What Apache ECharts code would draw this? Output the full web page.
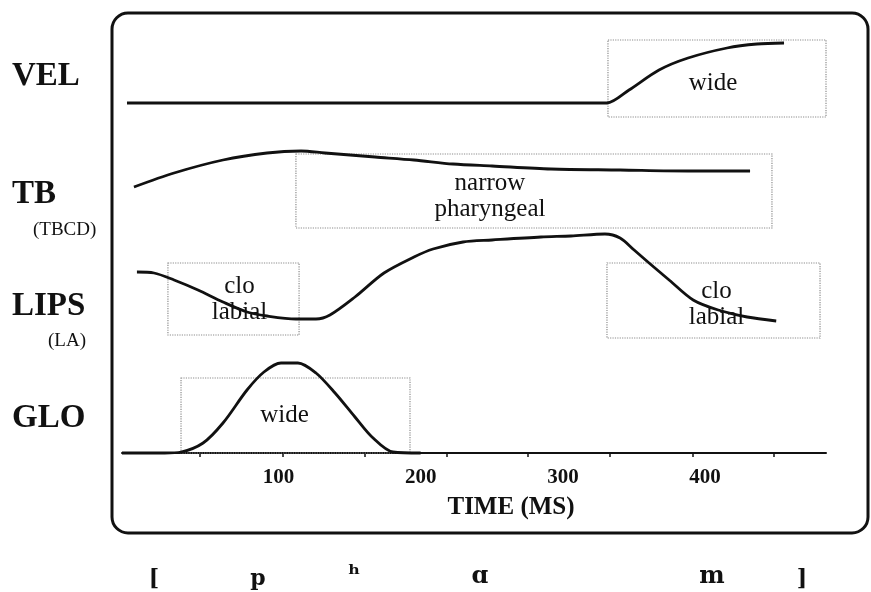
<!DOCTYPE html>
<html>
<head>
<meta charset="utf-8">
<script src="https://cdn.jsdelivr.net/npm/echarts@6/dist/echarts.min.js"></script>
<style>
  html, body { margin: 0; padding: 0; background: #ffffff; }
  #chart { width: 871px; height: 592px; }
</style>
</head>
<body>
<div id="chart"></div>
<script>
// Gestural score for [pʰɑm]: tract-variable trajectories over time (ms),
// with the active gesture intervals drawn as dotted boxes.

// Time axis
const timeMin = -10;
const timeMax = 485;
const timeLabels = [100, 200, 300, 400];
const timeTicks = [45, 103, 161, 218, 275, 333, 391, 448];

// Tiers (drawn top to bottom)
const tierNames = ['VEL', 'TB', 'LIPS', 'GLO'];
const tierSubNames = ['', '(TBCD)', '(LA)', ''];

// VEL (velum aperture)
const velTime  = [-6.5, 150, 300, 325, 331, 346.5, 367.6, 388, 415.4, 436.5, 455.5];
const velValue = [2.7, 2.7, 2.7, 2.7, 2.7, 4.0, 6.0, 7.2, 8.2, 8.6, 8.7];

// TB (tongue body constriction degree)
const tbTime  = [-1.6, 26.6, 61, 92, 115.9, 132.7, 167.9, 195.3, 222.7, 250.2, 291.6, 340.2, 388, 431.6];
const tbValue = [5.3, 6.7, 8.0, 8.7, 8.9, 8.7, 8.3, 8.0, 7.6, 7.4, 7.1, 7.0, 6.9, 6.9];

// LIPS (lip aperture)
const lipsTime  = [0.5, 12.5, 26.6, 43.4, 61, 77.9, 92, 112.3, 126.4, 136.2, 153.8, 174.2, 195.3, 208.7,
                   229.8, 250.2, 284.6, 305.7, 329.6, 340.2, 350.1, 360.6, 374.7, 391.6, 409.2, 429.6, 450];
const lipsValue = [6.8, 6.7, 6.0, 5.0, 3.8, 2.8, 2.4, 2.1, 2.1, 2.5, 4.3, 6.7, 8.3, 9.1,
                   9.8, 10.0, 10.3, 10.4, 10.6, 10.2, 9.0, 7.7, 6.0, 4.0, 3.0, 2.3, 1.9];

// GLO (glottal aperture)
const gloTime  = [-10, 20, 31.5, 47, 61, 77.9, 89.8, 101.8, 113.7, 126.4, 139.8, 153.8, 165.8, 180.5, 200];
const gloValue = [0, 0, 0.1, 1.0, 3.0, 6.3, 8.1, 9.0, 9.0, 8.0, 6.0, 3.6, 1.6, 0.1, 0];

// Gesture activation intervals: [label, start ms, end ms, low, high]
const velGestures  = [['wide', 331.7, 485, 1.3, 9.0]];
const tbGestures   = [['narrow\npharyngeal', 112.3, 447, 1.2, 8.6]];
const lipsGestures = [['clo\nlabial', 22.3, 114.5, 0.5, 7.7], ['clo\nlabial', 331, 480.8, 0.2, 7.7]];
const gloGestures  = [['wide', 31.5, 192.5, 0, 7.5]];

// Phonetic transcription along the bottom
const segments = ['[', 'p', 'ʰ', 'ɑ', 'm', ']'];

const serif = "'Liberation Serif', 'Times New Roman', serif";
const ink = '#111111';

function pairs(xs, ys) {
  return xs.map((x, i) => [x, ys[i]]);
}

function boxes(list, offsets) {
  return list.map((g, i) => [
    { name: g[0], xAxis: g[1], yAxis: g[4],
      label: { offset: offsets[i] } },
    { xAxis: g[2], yAxis: g[3] }
  ]);
}

function tierSeries(idx, xs, ys, gestures, offsets) {
  return {
    type: 'line',
    xAxisIndex: idx,
    yAxisIndex: idx,
    data: pairs(xs, ys),
    showSymbol: false,
    smooth: 0.3,
    clip: false,
    lineStyle: { color: ink, width: 2.8 },
    markArea: {
      silent: true,
      itemStyle: {
        color: 'rgba(0,0,0,0)',
        borderColor: '#8c8c8c',
        borderWidth: 1.2,
        borderType: 'dotted'
      },
      label: {
        show: true,
        position: 'inside',
        color: ink,
        fontFamily: serif,
        fontSize: 25,
        lineHeight: 26,
        formatter: p => p.name
      },
      data: boxes(gestures, offsets)
    }
  };
}

const grids = [
  { left: 122, right: 45, top: 30,  height: 100 },
  { left: 122, right: 45, top: 140, height: 100 },
  { left: 122, right: 45, top: 230, height: 110 },
  { left: 122, right: 45, top: 353, height: 100 }
];
const yMax = [10, 10, 11, 10];

const xAxes = grids.map((g, i) => {
  const base = { type: 'value', gridIndex: i, min: timeMin, max: timeMax, splitLine: { show: false } };
  if (i < 3) {
    return Object.assign(base, { show: false });
  }
  return Object.assign(base, {
    axisLine: { show: true, lineStyle: { color: ink, width: 2 } },
    axisTick: { show: true, customValues: timeTicks, length: 4, lineStyle: { color: ink, width: 1.5 } },
    axisLabel: {
      customValues: timeLabels,
      color: ink,
      fontFamily: serif,
      fontWeight: 'bold',
      fontSize: 21,
      margin: 14
    }
  });
});

const yAxes = grids.map((g, i) => ({
  type: 'value', gridIndex: i, min: 0, max: yMax[i], show: false
}));

// Tier names on the left
const tierY = [79, 197, 309, 421];
const subY = [0, 232, 343, 0];
const subX = [0, 33, 48, 0];
const labelGraphics = [];
tierNames.forEach((name, i) => {
  labelGraphics.push({
    type: 'text', left: 12, top: tierY[i] - 19,
    style: { text: name, font: 'bold 33px ' + serif, fill: ink }
  });
  if (tierSubNames[i]) {
    labelGraphics.push({
      type: 'text', left: subX[i], top: subY[i] - 11,
      style: { text: tierSubNames[i], font: '19px ' + serif, fill: ink }
    });
  }
});

// Transcription symbols
const segX = [154, 258, 354, 480, 712, 802];
const segY = [579, 579, 576, 577, 577, 579];
const segSize = [22, 22, 24, 24, 24, 22];
segments.forEach((s, i) => {
  labelGraphics.push({
    type: 'text', x: segX[i], y: segY[i],
    style: {
      text: s, font: 'bold ' + segSize[i] + "px 'DejaVu Serif', serif",
      fill: ink, align: 'center', verticalAlign: 'middle'
    }
  });
});

const chart = echarts.init(document.getElementById('chart'), null, { renderer: 'canvas' });
chart.setOption({
  animation: false,
  backgroundColor: '#ffffff',
  grid: grids,
  xAxis: xAxes,
  yAxis: yAxes,
  series: [
    tierSeries(0, velTime, velValue, velGestures, [[-4, 5]]),
    tierSeries(1, tbTime, tbValue, tbGestures, [[-44, 5]]),
    tierSeries(2, lipsTime, lipsValue, lipsGestures, [[6, 0], [3, 4]]),
    tierSeries(3, gloTime, gloValue, gloGestures, [[-11, 0]])
  ],
  graphic: [
    {
      type: 'rect',
      shape: { x: 112, y: 13, width: 756, height: 520, r: 16 },
      style: { fill: 'none', stroke: ink, lineWidth: 3 },
      silent: true
    },
    {
      type: 'text', x: 511, y: 508,
      style: { text: 'TIME (MS)', font: 'bold 25px ' + serif, fill: ink, align: 'center', verticalAlign: 'middle' }
    }
  ].concat(labelGraphics)
});
</script>
</body>
</html>
